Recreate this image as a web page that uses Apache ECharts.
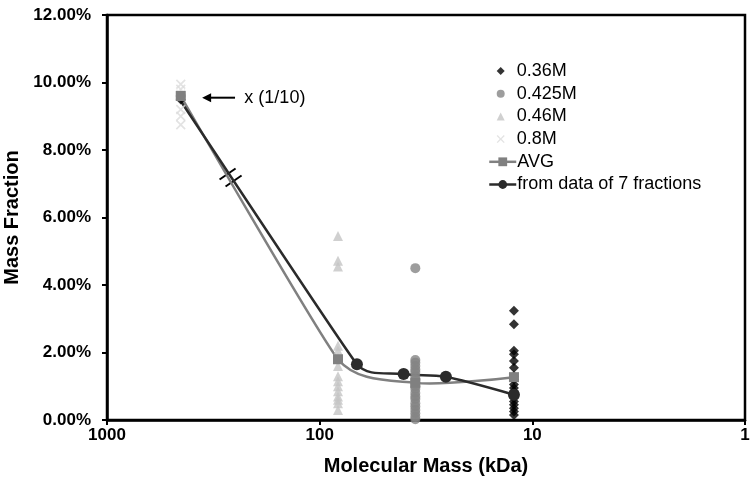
<!DOCTYPE html>
<html><head><meta charset="utf-8">
<script src="https://cdn.jsdelivr.net/npm/echarts@6/dist/echarts.min.js"></script>
<style>html,body{margin:0;padding:0;background:#fff}#c{width:750px;height:486px}</style>
</head><body><div id="c"></div>
<script>
// kDa positions of the fraction columns
var xTop = 450, x046 = 82, x0425 = 35.5, x036 = 12.2;
// scatter series values (%)
var s036 = [3.24, 2.84, 2.05, 1.95, 1.75, 1.55, 1.3, 1.2, 1.05, 0.95, 0.85, 0.75, 0.65, 0.55, 0.45, 0.35, 0.25, 0.15];
var s036Top = [9.5];
var s0425 = [4.5, 1.78, 1.7, 1.6, 1.5, 1.42, 1.3, 1.2, 1.1, 1.0, 0.92, 0.8, 0.7, 0.62, 0.5, 0.4, 0.3, 0.2, 0.1, 0.02];
var s0425Top = [9.6];
var s046 = [5.45, 4.72, 4.55, 2.2, 2.05, 1.85, 1.6, 1.3, 1.15, 1.0, 0.85, 0.7, 0.6, 0.5, 0.3];
var s046Top = [9.65];
var s08 = [9.95, 9.8, 9.65, 9.2, 9.0, 8.75];
// line series
var avgX = [450, 82, 35.5, 12.2];
var avgY = [9.6, 1.8, 1.1, 1.27];
var fracX = [450, 66.8, 40.3, 25.5, 12.2];
var fracY = [9.45, 1.65, 1.36, 1.28, 0.75];
var xTicks = [1000, 100, 10, 1];
var legendNames = ['0.36M', '0.425M', '0.46M', '0.8M', 'AVG', 'from data of 7 fractions'];

function pts(x, ys){ return ys.map(function(v){ return [x, v]; }); }
function pairs(xs, ys){ return xs.map(function(x,i){ return [x, ys[i]]; }); }

var AVG_COLOR = '#808080', FRAC_COLOR = '#2b2b2b';
var xSym = 'path://M0,1.2 L1.2,0 L5,3.8 L8.8,0 L10,1.2 L6.2,5 L10,8.8 L8.8,10 L5,6.2 L1.2,10 L0,8.8 L3.8,5 Z';
var chart = echarts.init(document.getElementById('c'), null, {renderer:'canvas'});
var font = 'Liberation Sans, Arial, sans-serif';

var rowY = [70, 92.7, 115.4, 138.1, 160.8, 183.5];
var legends = legendNames.map(function(n, i){
  var isLine = i >= 4;
  var iw = isLine ? 27 : 8, ih = isLine ? 11 : 8;
  var item = isLine ? {name: n, lineStyle: {opacity: 1, width: 2.5, color: i === 4 ? AVG_COLOR : FRAC_COLOR}} : n;
  return {
    orient: 'vertical', padding: 0, itemGap: 0,
    left: isLine ? 488 : 496.7, top: rowY[i] - 8,
    itemWidth: iw, itemHeight: ih,
    textStyle: {fontFamily: font, fontSize: 18, color: '#000', padding: [0, 0, 0, isLine ? -4 : 7]},
    data: [item]
  };
});

// smoothed curve through the data points (Excel-like: short tangent handles)
function curveSeries(xs, ys, color){
  return {
    type: 'custom', name: 'curve', coordinateSystem: 'cartesian2d', silent: true,
    data: pairs(xs, ys), encode: {x: 0, y: 1},
    renderItem: function(params, api){
      var i = params.dataIndex, n = xs.length;
      if (i >= n - 1) return {type: 'group', children: []};
      var P = xs.map(function(x, k){ return api.coord([x, ys[k]]); });
      function dist(a, b){ return Math.hypot(b[0]-a[0], b[1]-a[1]); }
      function handle(k){
        if (k === 0 || k === n - 1) return [0, 0];
        var v = [P[k+1][0]-P[k-1][0], P[k+1][1]-P[k-1][1]];
        var L = Math.hypot(v[0], v[1]) || 1;
        var h = 0.35 * Math.min(dist(P[k-1], P[k]), dist(P[k], P[k+1]));
        return [v[0] / L * h, v[1] / L * h];
      }
      var h0 = handle(i), h1 = handle(i + 1);
      return {
        type: 'bezierCurve',
        shape: {x1: P[i][0], y1: P[i][1], x2: P[i+1][0], y2: P[i+1][1],
          cpx1: P[i][0] + h0[0], cpy1: P[i][1] + h0[1], cpx2: P[i+1][0] - h1[0], cpy2: P[i+1][1] - h1[1]},
        style: {stroke: color, lineWidth: 2.5, fill: null}
      };
    }
  };
}

var top036 = pts(xTop, s036Top), top0425 = pts(xTop, s0425Top), top046 = pts(xTop, s046Top);
var fracData = pairs(fracX, fracY);
fracData[0] = {value: fracData[0], symbolSize: 0};

chart.setOption({
  animation: false,
  backgroundColor: '#fff',
  grid: {left: 107, right: 5, top: 15, bottom: 66, containLabel: false, outerBoundsMode: 'none',
    show: true, borderColor: '#000', borderWidth: 2.5},
  xAxis: {
    type: 'log', logBase: 10, min: 1, max: 1000, inverse: true,
    name: 'Molecular Mass (kDa)', nameLocation: 'middle', nameGap: 36,
    nameTextStyle: {fontFamily: font, fontWeight: 'bold', fontSize: 20, color: '#000'},
    axisLine: {show: true, lineStyle: {color: '#000', width: 2.5}},
    axisTick: {show: true, inside: false, length: 5, lineStyle: {color: '#000', width: 2}},
    minorTick: {show: false},
    splitLine: {show: false},
    axisLabel: {margin: 7, fontFamily: font, fontWeight: 'bold', fontSize: 17, color: '#000',
      formatter: function(v){ return String(Math.round(v)); }}
  },
  yAxis: {
    type: 'value', min: 0, max: 12, interval: 2,
    name: 'Mass Fraction', nameLocation: 'middle', nameGap: 81, nameRotate: 90,
    nameTextStyle: {fontFamily: font, fontWeight: 'bold', fontSize: 20, color: '#000'},
    axisLine: {show: true, lineStyle: {color: '#000', width: 2.5}},
    axisTick: {show: true, inside: false, length: 5, lineStyle: {color: '#000', width: 2}},
    splitLine: {show: false},
    axisLabel: {margin: 16, fontFamily: font, fontWeight: 'bold', fontSize: 17, color: '#000',
      formatter: function(v){ return v.toFixed(2) + '%'; }}
  },
  legend: legends,
  series: [
    {name: '0.36M', type: 'scatter', symbol: 'diamond', symbolSize: 10, itemStyle: {color: '#000'}, data: pts(x036, s036).concat(top036)},
    {name: '0.425M', type: 'scatter', symbol: 'circle', symbolSize: 10, itemStyle: {color: '#858585'}, data: pts(x0425, s0425).concat(top0425)},
    {name: '0.46M', type: 'scatter', symbol: 'triangle', symbolSize: 10, itemStyle: {color: '#c4c4c4'}, data: pts(x046, s046).concat(top046)},
    {name: '0.8M', type: 'scatter', symbol: xSym, symbolSize: 10, itemStyle: {color: '#dcdcdc'}, data: pts(xTop, s08)},
    curveSeries(avgX, avgY, AVG_COLOR),
    curveSeries(fracX, fracY, FRAC_COLOR),
    {name: 'AVG', type: 'line', symbol: 'rect', symbolSize: 10, showSymbol: true,
      lineStyle: {color: AVG_COLOR, width: 2.5, opacity: 0}, itemStyle: {color: AVG_COLOR}, data: pairs(avgX, avgY)},
    {name: 'from data of 7 fractions', type: 'line', symbol: 'circle', symbolSize: 12, showSymbol: true,
      lineStyle: {color: FRAC_COLOR, width: 2.5, opacity: 0}, itemStyle: {color: FRAC_COLOR}, data: fracData}
  ]
});

function px(p){ return chart.convertToPixel({gridIndex: 0}, p); }
var tip = px([357, 9.55]), tail = px([250, 9.55]), txt = px([226, 9.55]);
var b1 = px([271, 7.29]), b2 = px([254, 7.08]);
chart.setOption({graphic: [
  {type: 'line', shape: {x1: tail[0], y1: tail[1], x2: tip[0] + 6, y2: tip[1]}, style: {stroke: '#000', lineWidth: 2}},
  {type: 'polygon', shape: {points: [[tip[0], tip[1]], [tip[0] + 9, tip[1] - 4.5], [tip[0] + 9, tip[1] + 4.5]]}, style: {fill: '#000'}},
  {type: 'text', x: txt[0], y: txt[1], style: {text: 'x (1/10)', fill: '#000', font: '18px ' + font, textVerticalAlign: 'middle', verticalAlign: 'middle'}},
  {type: 'line', shape: {x1: b1[0] - 8, y1: b1[1] + 5.5, x2: b1[0] + 8, y2: b1[1] - 5.5}, style: {stroke: '#000', lineWidth: 2}},
  {type: 'line', shape: {x1: b2[0] - 8, y1: b2[1] + 5.5, x2: b2[0] + 8, y2: b2[1] - 5.5}, style: {stroke: '#000', lineWidth: 2}}
]});
</script>
</body></html>
